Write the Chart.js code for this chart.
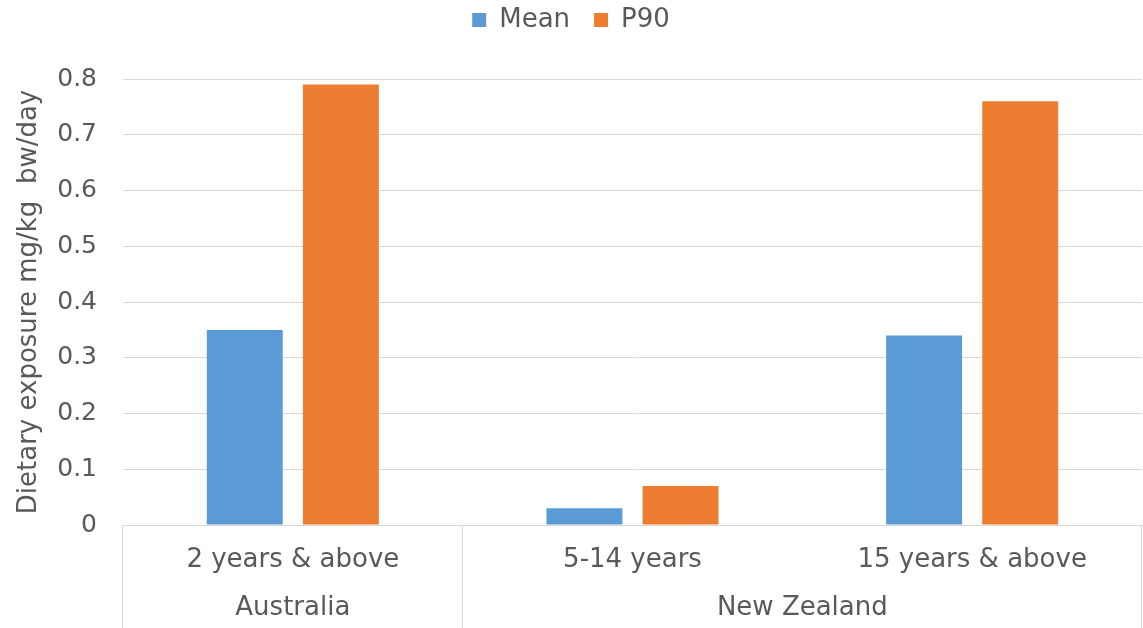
<!DOCTYPE html>
<html>
<head>
<meta charset="utf-8">
<script src="https://cdn.jsdelivr.net/npm/chart.js@4.4.1/dist/chart.umd.min.js"></script>
<style>
  html, body { margin: 0; padding: 0; background: #ffffff; }
  #wrap { width: 1143px; height: 628px; position: relative; }
</style>
</head>
<body>
<div id="wrap"><canvas id="chart" width="1143" height="628"></canvas></div>
<script>
// Age groups along the axis, and the country each one belongs to
const ageGroups = ['2 years & above', '5-14 years', '15 years & above'];
const countryNames = ['Australia', 'New Zealand'];
const countrySpans = [1, 2];

// Dietary exposure, mg/kg bw/day
const meanValues = [0.35, 0.03, 0.34];
const p90Values = [0.79, 0.07, 0.76];

const seriesNames = ['Mean', 'P90'];
const yTicks = [0, 0.1, 0.2, 0.3, 0.4, 0.5, 0.6, 0.7, 0.8];

const FONT = 'DejaVu Sans';
const TEXT = '#595959';
const GRID = '#d9d9d9';
const TOP_SHIFT = -17;
const LEGEND_BAND = 79 - TOP_SHIFT;

// Give the legend a fixed-height band above the plot
const legendBand = {
  id: 'legendBand',
  beforeLayout(chart) {
    const lg = chart.legend;
    if (lg && !lg._banded) {
      const fit = lg.fit.bind(lg);
      lg.fit = function () { fit(); this.height = LEGEND_BAND; };
      lg._banded = true;
    }
  }
};

// Country labels under the age groups, with separator lines between countries
const countryAxis = {
  id: 'countryAxis',
  afterDraw(chart) {
    const x = chart.scales.x;
    const ctx = chart.ctx;
    const n = ageGroups.length;
    const w = (x.right - x.left) / n;
    const top = x.top;
    const bottom = chart.height;
    ctx.save();
    ctx.strokeStyle = GRID;
    ctx.lineWidth = 1;
    let start = 0;
    const edges = [0];
    countrySpans.forEach(s => { start += s; edges.push(start); });
    edges.forEach(e => {
      const px = Math.round(x.left + e * w) - 0.5;
      ctx.beginPath();
      ctx.moveTo(px, top);
      ctx.lineTo(px, bottom);
      ctx.stroke();
    });
    ctx.fillStyle = TEXT;
    ctx.font = '26px "' + FONT + '"';
    ctx.textAlign = 'center';
    ctx.textBaseline = 'middle';
    countryNames.forEach((name, i) => {
      const cx = x.left + (edges[i] + edges[i + 1]) / 2 * w;
      ctx.fillText(name, cx, 608);
    });
    ctx.restore();
  }
};

new Chart(document.getElementById('chart'), {
  type: 'bar',
  data: {
    labels: ageGroups,
    datasets: [
      { label: seriesNames[0], data: meanValues, backgroundColor: '#5B9BD5' },
      { label: seriesNames[1], data: p90Values, backgroundColor: '#ED7D31' }
    ]
  },
  options: {
    responsive: false,
    animation: false,
    events: [],
    layout: { padding: { top: TOP_SHIFT, right: 1, left: 0, bottom: 0 } },
    datasets: { bar: { categoryPercentage: 0.566, barPercentage: 0.79 } },
    plugins: {
      tooltip: { enabled: false },
      legend: {
        position: 'top',
        labels: {
          font: { family: FONT, size: 26 },
          color: TEXT,
          boxWidth: 14,
          boxHeight: 14,
          padding: 24
        }
      }
    },
    scales: {
      x: {
        grid: { display: false },
        border: { color: GRID, width: 1 },
        ticks: { font: { family: FONT, size: 26 }, color: TEXT, padding: 12, maxRotation: 0 },
        afterFit(scale) { scale.height = 103; }
      },
      y: {
        min: 0,
        max: 0.8,
        afterBuildTicks(scale) { scale.ticks = yTicks.map(v => ({ value: v })); },
        grid: { color: GRID, drawTicks: false },
        border: { display: false },
        ticks: {
          font: { family: FONT, size: 25 },
          color: TEXT,
          padding: 26,
          callback: v => (v === 0 ? '0' : v.toFixed(1))
        },
        title: {
          display: true,
          text: 'Dietary exposure mg/kg  bw/day',
          font: { family: FONT, size: 26 },
          color: TEXT,
          padding: { top: 14, bottom: 0 }
        },
        afterFit(scale) { scale.width = 123; }
      }
    }
  },
  plugins: [legendBand, countryAxis]
});
</script>
</body>
</html>
